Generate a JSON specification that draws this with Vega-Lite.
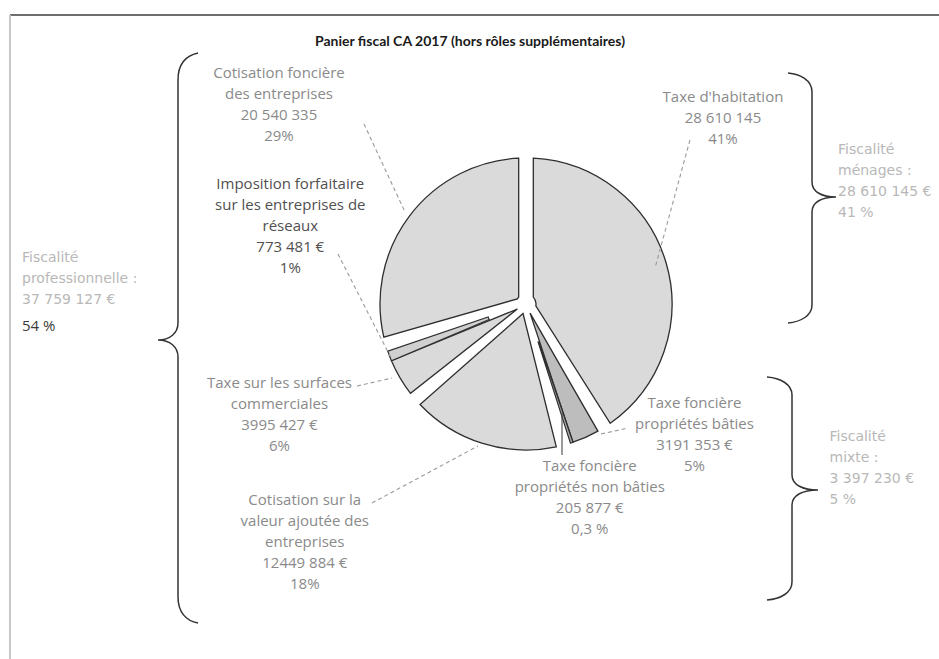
{
  "$schema": "https://vega.github.io/schema/vega-lite/v6.json",
  "autosize": {"type": "none"},
  "width": 826,
  "height": 496,
  "padding": {"left": 113, "top": 56, "right": 0, "bottom": 107},
  "background": "white",
  "title": {"text": "Panier fiscal CA 2017 (hors rôles supplémentaires)", "font": "Lato", "fontSize": 14, "fontWeight": "bold", "color": "#1a1a1a", "anchor": "middle", "frame": "group", "dx": -56, "offset": -38},
  "config": {"view": {"stroke": null}},
  "resolve": {"scale": {"shape": "independent", "stroke": "independent", "strokeDash": "independent", "color": "independent"}},
  "datasets": {
    "postes": [
      {"code": "TH", "poste": "Taxe d'habitation", "montant": 28610145, "ordre": 1, "libelle": "Taxe d'habitation\n28 610 145\n41%"},
      {"code": "TFPB", "poste": "Taxe foncière propriétés bâties", "montant": 3191353, "ordre": 2, "libelle": "Taxe foncière\npropriétés bâties\n3191 353 €\n5%"},
      {"code": "TFPNB", "poste": "Taxe foncière propriétés non bâties", "montant": 205877, "ordre": 3, "libelle": "Taxe foncière\npropriétés non bâties\n205 877 €\n0,3 %"},
      {"code": "CVAE", "poste": "Cotisation sur la valeur ajoutée des entreprises", "montant": 12449884, "ordre": 4, "libelle": "Cotisation sur la\nvaleur ajoutée des\nentreprises\n12449 884 €\n18%"},
      {"code": "TASCOM", "poste": "Taxe sur les surfaces commerciales", "montant": 3995427, "ordre": 5, "libelle": "Taxe sur les surfaces\ncommerciales\n3995 427 €\n6%"},
      {"code": "IFER", "poste": "Imposition forfaitaire sur les entreprises de réseaux", "montant": 773481, "ordre": 6, "libelle": "Imposition forfaitaire\nsur les entreprises de\nréseaux\n773 481 €\n1%"},
      {"code": "CFE", "poste": "Cotisation foncière des entreprises", "montant": 20540335, "ordre": 7, "libelle": "Cotisation foncière\ndes entreprises\n20 540 335\n29%"}
    ],
    "groupes": [
      {"code": "MEN", "groupe": "Fiscalité ménages", "montant": 28610145, "ordre": 1, "libelle": "Fiscalité\nménages :\n28 610 145 €", "part": "41 %"},
      {"code": "MIX", "groupe": "Fiscalité mixte", "montant": 3397230, "ordre": 2, "libelle": "Fiscalité\nmixte :\n3 397 230 €", "part": "5 %"},
      {"code": "PRO", "groupe": "Fiscalité professionnelle", "montant": 37759127, "ordre": 3, "libelle": "Fiscalité\nprofessionnelle :\n37 759 127 €", "part": "54 %"}
    ],
    "cadre": [
      {"bord": "haut"},
      {"bord": "gauche"}
    ]
  },
  "layer": [
    {
      "data": {"name": "cadre"},
      "mark": {"type": "point", "size": 40000, "filled": false, "opacity": 1, "strokeWidth": 2},
      "encoding": {
        "shape": {"field": "bord", "type": "nominal", "scale": {"domain": ["haut", "gauche"], "range": ["M -5.16 -2.89 L 4.3 -2.89", "M -5.16 -2.89 L -5.16 3.6"]}, "legend": null},
        "stroke": {"field": "bord", "type": "nominal", "scale": {"domain": ["haut", "gauche"], "range": ["#6e6e6e", "#c8c8c8"]}, "legend": null}
      }
    },
    {
      "data": {"name": "postes"},
      "transform": [
        {"stack": "montant", "groupby": [], "sort": [{"field": "ordre", "order": "ascending"}], "as": ["debut", "fin"]},
        {"filter": {"field": "code", "oneOf": ["TH", "TFPB", "CVAE", "TASCOM", "CFE"]}}
      ],
      "mark": {"type": "arc", "outerRadius": 146, "innerRadius": 10, "padAngle": 0.1, "stroke": "#2e2e2e", "strokeWidth": 1.3},
      "encoding": {
        "theta": {"field": "debut", "type": "quantitative"},
        "theta2": {"field": "fin"},
        "fill": {"field": "code", "type": "nominal", "scale": {"domain": ["TH", "TFPB", "TFPNB", "CVAE", "TASCOM", "IFER", "CFE"], "range": ["#dadada", "#bdbdbd", "#a9a9a9", "#dadada", "#dadada", "#d0d0d0", "#dadada"]}, "legend": null}
      }
    },
    {
      "data": {"name": "postes"},
      "transform": [
        {"stack": "montant", "groupby": [], "sort": [{"field": "ordre", "order": "ascending"}], "as": ["debut", "fin"]},
        {"filter": {"field": "code", "oneOf": ["TFPNB", "IFER"]}}
      ],
      "mark": {"type": "arc", "outerRadius": 146, "innerRadius": 40, "padAngle": 0, "thetaOffset": -0.05, "theta2Offset": -0.05, "stroke": "#2e2e2e", "strokeWidth": 1.2},
      "encoding": {
        "theta": {"field": "debut", "type": "quantitative"},
        "theta2": {"field": "fin"},
        "fill": {"field": "code", "type": "nominal", "scale": {"domain": ["TH", "TFPB", "TFPNB", "CVAE", "TASCOM", "IFER", "CFE"], "range": ["#dadada", "#bdbdbd", "#a9a9a9", "#dadada", "#dadada", "#d0d0d0", "#dadada"]}, "legend": null}
      }
    },
    {
      "data": {"name": "postes"},
      "mark": {"type": "point", "size": 40000, "filled": false, "opacity": 1, "strokeWidth": 1.1},
      "encoding": {
        "shape": {"field": "code", "type": "nominal", "scale": {"domain": ["TH", "TFPB", "TFPNB", "CVAE", "TASCOM", "IFER", "CFE"], "range": ["M 1.64 -1.64 L 1.29 -0.36", "M 0.75 1.30 L 1.02 1.24", "M 0.36 1.09 L 0.36 1.51", "M -1.54 1.99 L -0.48 1.42", "M -1.69 0.82 L -1.34 0.74", "M -1.88 -0.50 L -1.36 0.52", "M -1.62 -1.80 L -1.21 -0.92"]}, "legend": null},
        "stroke": {"condition": {"test": "datum.code === 'TFPNB'", "value": "#4a4a4a"}, "value": "#9a9a9a"},
        "strokeDash": {"condition": {"test": "datum.code === 'TFPNB'", "value": [1, 0]}, "value": [4, 3]}
      }
    },
    {
      "data": {"name": "groupes"},
      "mark": {"type": "point", "size": 40000, "filled": false, "opacity": 1, "stroke": "#333333", "strokeWidth": 1.5},
      "encoding": {
        "shape": {"field": "code", "type": "nominal", "scale": {"domain": ["MEN", "MIX", "PRO"], "range": [
          "M 2.62 -2.31 C 2.74 -2.30 2.86 -2.24 2.86 -2.12 L 2.86 -1.22 C 2.86 -1.12 2.96 -1.07 3.10 -1.07 C 2.96 -1.07 2.86 -1.02 2.86 -0.92 L 2.86 0.01 C 2.86 0.12 2.74 0.18 2.62 0.19",
          "M 2.41 0.73 C 2.54 0.74 2.66 0.80 2.66 0.91 L 2.66 1.71 C 2.66 1.81 2.77 1.86 2.92 1.86 C 2.77 1.86 2.66 1.91 2.66 2.01 L 2.66 2.78 C 2.66 2.89 2.54 2.95 2.41 2.96",
          "M -3.28 -2.51 C -3.42 -2.48 -3.48 -2.38 -3.48 -2.24 L -3.48 0.19 C -3.48 0.29 -3.56 0.36 -3.68 0.36 C -3.56 0.36 -3.48 0.43 -3.48 0.53 L -3.48 2.93 C -3.48 3.08 -3.40 3.17 -3.28 3.19"
        ]}, "legend": null}
      }
    },
    {
      "data": {"name": "postes"},
      "transform": [
        {"stack": "montant", "groupby": [], "sort": [{"field": "ordre", "order": "ascending"}], "as": ["debut", "fin"]},
        {"filter": "datum.code === 'CFE'"}
      ],
      "mark": {"type": "text", "radius": 240, "dx": -247, "dy": 2, "align": "center", "baseline": "top", "lineBreak": "\n", "lineHeight": 21, "font": "Open Sans", "fontSize": 15, "color": "#8a8a8a"},
      "encoding": {
        "theta": {"field": "fin", "type": "quantitative"},
        "text": {"field": "libelle"}
      }
    },
    {
      "data": {"name": "postes"},
      "transform": [
        {"stack": "montant", "groupby": [], "sort": [{"field": "ordre", "order": "ascending"}], "as": ["debut", "fin"]},
        {"filter": "datum.code === 'IFER'"}
      ],
      "mark": {"type": "text", "radius": 240, "dx": -5, "dy": -193, "align": "center", "baseline": "top", "lineBreak": "\n", "lineHeight": 21, "font": "Open Sans", "fontSize": 15, "color": "#505050"},
      "encoding": {
        "theta": {"field": "fin", "type": "quantitative"},
        "text": {"field": "libelle"}
      }
    },
    {
      "data": {"name": "postes"},
      "transform": [
        {"stack": "montant", "groupby": [], "sort": [{"field": "ordre", "order": "ascending"}], "as": ["debut", "fin"]},
        {"filter": "datum.code === 'TASCOM'"}
      ],
      "mark": {"type": "text", "radius": 240, "dx": -21, "dy": -10, "align": "center", "baseline": "top", "lineBreak": "\n", "lineHeight": 21, "font": "Open Sans", "fontSize": 15, "color": "#8a8a8a"},
      "encoding": {
        "theta": {"field": "fin", "type": "quantitative"},
        "text": {"field": "libelle"}
      }
    },
    {
      "data": {"name": "postes"},
      "transform": [
        {"stack": "montant", "groupby": [], "sort": [{"field": "ordre", "order": "ascending"}], "as": ["debut", "fin"]},
        {"filter": "datum.code === 'CVAE'"}
      ],
      "mark": {"type": "text", "radius": 240, "dx": -39, "dy": 33, "align": "center", "baseline": "top", "lineBreak": "\n", "lineHeight": 21, "font": "Open Sans", "fontSize": 15, "color": "#8a8a8a"},
      "encoding": {
        "theta": {"field": "fin", "type": "quantitative"},
        "text": {"field": "libelle"}
      }
    },
    {
      "data": {"name": "postes"},
      "transform": [
        {"stack": "montant", "groupby": [], "sort": [{"field": "ordre", "order": "ascending"}], "as": ["debut", "fin"]},
        {"filter": "datum.code === 'TFPNB'"}
      ],
      "mark": {"type": "text", "radius": 240, "dx": -2, "dy": -76, "align": "center", "baseline": "top", "lineBreak": "\n", "lineHeight": 21, "font": "Open Sans", "fontSize": 15, "color": "#8a8a8a"},
      "encoding": {
        "theta": {"field": "debut", "type": "quantitative"},
        "text": {"field": "libelle"}
      }
    },
    {
      "data": {"name": "postes"},
      "transform": [
        {"stack": "montant", "groupby": [], "sort": [{"field": "ordre", "order": "ascending"}], "as": ["debut", "fin"]},
        {"filter": "datum.code === 'TFPB'"}
      ],
      "mark": {"type": "text", "radius": 240, "dx": 40, "dy": -111, "align": "center", "baseline": "top", "lineBreak": "\n", "lineHeight": 21, "font": "Open Sans", "fontSize": 15, "color": "#8a8a8a"},
      "encoding": {
        "theta": {"field": "debut", "type": "quantitative"},
        "text": {"field": "libelle"}
      }
    },
    {
      "data": {"name": "postes"},
      "transform": [
        {"stack": "montant", "groupby": [], "sort": [{"field": "ordre", "order": "ascending"}], "as": ["debut", "fin"]},
        {"filter": "datum.code === 'TH'"}
      ],
      "mark": {"type": "text", "radius": 240, "dx": 197, "dy": 26, "align": "center", "baseline": "top", "lineBreak": "\n", "lineHeight": 21, "font": "Open Sans", "fontSize": 15, "color": "#8a8a8a"},
      "encoding": {
        "theta": {"field": "debut", "type": "quantitative"},
        "text": {"field": "libelle"}
      }
    },
    {
      "data": {"name": "groupes"},
      "transform": [
        {"stack": "montant", "groupby": [], "sort": [{"field": "ordre", "order": "ascending"}], "as": ["debut", "fin"]},
        {"filter": "datum.code === 'PRO'"}
      ],
      "mark": {"type": "text", "radius": 240, "dx": -504, "dy": 187, "align": "left", "baseline": "top", "lineBreak": "\n", "lineHeight": 21, "font": "DejaVu Sans", "fontSize": 14, "color": "#b8b8b8"},
      "encoding": {
        "theta": {"field": "fin", "type": "quantitative"},
        "text": {"field": "libelle"}
      }
    },
    {
      "data": {"name": "groupes"},
      "transform": [
        {"stack": "montant", "groupby": [], "sort": [{"field": "ordre", "order": "ascending"}], "as": ["debut", "fin"]},
        {"filter": "datum.code === 'PRO'"}
      ],
      "mark": {"type": "text", "radius": 240, "dx": -504, "dy": 255, "align": "left", "baseline": "top", "font": "Open Sans", "fontSize": 15, "color": "#3c3c3c"},
      "encoding": {
        "theta": {"field": "fin", "type": "quantitative"},
        "text": {"field": "part"}
      }
    },
    {
      "data": {"name": "groupes"},
      "transform": [
        {"stack": "montant", "groupby": [], "sort": [{"field": "ordre", "order": "ascending"}], "as": ["debut", "fin"]},
        {"filter": "datum.code === 'MEN'"}
      ],
      "mark": {"type": "text", "radius": 240, "dx": 312, "dy": 79, "align": "left", "baseline": "top", "lineBreak": "\n", "lineHeight": 21, "font": "DejaVu Sans", "fontSize": 14, "color": "#b8b8b8"},
      "encoding": {
        "theta": {"field": "debut", "type": "quantitative"},
        "text": {"field": "libelle"}
      }
    },
    {
      "data": {"name": "groupes"},
      "transform": [
        {"stack": "montant", "groupby": [], "sort": [{"field": "ordre", "order": "ascending"}], "as": ["debut", "fin"]},
        {"filter": "datum.code === 'MEN'"}
      ],
      "mark": {"type": "text", "radius": 240, "dx": 312, "dy": 142, "align": "left", "baseline": "top", "font": "DejaVu Sans", "fontSize": 14, "color": "#b8b8b8"},
      "encoding": {
        "theta": {"field": "debut", "type": "quantitative"},
        "text": {"field": "part"}
      }
    },
    {
      "data": {"name": "groupes"},
      "transform": [
        {"stack": "montant", "groupby": [], "sort": [{"field": "ordre", "order": "ascending"}], "as": ["debut", "fin"]},
        {"filter": "datum.code === 'MIX'"}
      ],
      "mark": {"type": "text", "radius": 240, "dx": 175, "dy": -77, "align": "left", "baseline": "top", "lineBreak": "\n", "lineHeight": 21, "font": "DejaVu Sans", "fontSize": 14, "color": "#b8b8b8"},
      "encoding": {
        "theta": {"field": "debut", "type": "quantitative"},
        "text": {"field": "libelle"}
      }
    },
    {
      "data": {"name": "groupes"},
      "transform": [
        {"stack": "montant", "groupby": [], "sort": [{"field": "ordre", "order": "ascending"}], "as": ["debut", "fin"]},
        {"filter": "datum.code === 'MIX'"}
      ],
      "mark": {"type": "text", "radius": 240, "dx": 175, "dy": -14, "align": "left", "baseline": "top", "font": "DejaVu Sans", "fontSize": 14, "color": "#b8b8b8"},
      "encoding": {
        "theta": {"field": "debut", "type": "quantitative"},
        "text": {"field": "part"}
      }
    }
  ]
}
